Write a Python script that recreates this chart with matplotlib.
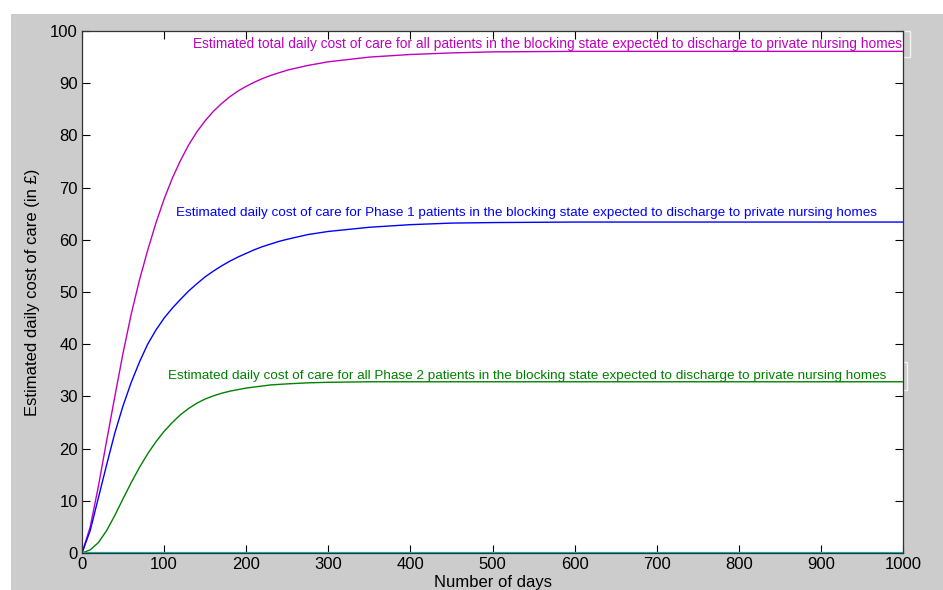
import matplotlib
matplotlib.use("Agg")
import matplotlib.pyplot as plt
from matplotlib import font_manager as fm
from matplotlib.patches import Rectangle

# ---------------- data ----------------
days = [0, 10, 20, 30, 40, 50, 60, 70, 80, 90, 100, 110, 120, 130, 140, 150,
        160, 170, 180, 190, 200, 210, 220, 230, 240, 250, 275, 300, 350, 400,
        450, 500, 600, 700, 800, 900, 1000]
total_cost = [0, 5.0, 12.8, 21.5, 30.0, 38.3, 45.8, 52.3, 58.0, 63.2, 67.8,
              71.8, 75.2, 78.2, 80.7, 82.8, 84.6, 86.1, 87.4, 88.5, 89.4, 90.2,
              90.9, 91.5, 92.0, 92.5, 93.4, 94.1, 95.0, 95.5, 95.8, 96.0, 96.1,
              96.1, 96.1, 96.1, 96.1]
phase1_cost = [0, 4.3, 10.6, 16.9, 23.0, 28.2, 32.7, 36.6, 40.0, 42.7, 45.0,
               46.9, 48.6, 50.2, 51.6, 52.9, 54.0, 55.0, 55.9, 56.7, 57.4, 58.1,
               58.7, 59.2, 59.7, 60.1, 61.0, 61.6, 62.4, 62.9, 63.2, 63.3, 63.4,
               63.4, 63.4, 63.4, 63.4]
phase2_cost = [0, 0.6, 2.0, 4.3, 7.2, 10.4, 13.5, 16.4, 19.0, 21.3, 23.3,
               25.0, 26.5, 27.7, 28.7, 29.5, 30.1, 30.6, 31.0, 31.3, 31.6, 31.8,
               32.0, 32.2, 32.3, 32.4, 32.6, 32.7, 32.8, 32.8, 32.8, 32.8, 32.8,
               32.8, 32.8, 32.8, 32.8]
other_cost = [0] * len(days)

label_total = ("Estimated total daily cost of care for all patients in the blocking "
               "state expected to discharge to private nursing homes")
label_p1 = ("Estimated daily cost of care for Phase 1 patients in the blocking "
            "state expected to discharge to private nursing homes")
label_p2 = ("Estimated daily cost of care for all Phase 2 patients in the blocking "
            "state expected to discharge to private nursing homes")

x_ticks = [0, 100, 200, 300, 400, 500, 600, 700, 800, 900, 1000]
y_ticks = [0, 10, 20, 30, 40, 50, 60, 70, 80, 90, 100]

# ---------------- styling ----------------
names = {f.name for f in fm.fontManager.ttflist}
narrow = "Liberation Sans Narrow" if "Liberation Sans Narrow" in names else "Liberation Sans"
plt.rcParams['font.family'] = ['Liberation Sans', 'DejaVu Sans']

C_MAG = '#bf00bf'
C_BLUE = '#0000ff'
C_GREEN = '#008000'
C_CYAN = '#00bfbf'

W, H = 943, 590
fig = plt.figure(figsize=(W / 100, H / 100), dpi=100, facecolor='white')
# grey MATLAB-like figure background
fig.patches.append(Rectangle((11 / W, 0), 1 - 11 / W, 1 - 14 / H,
                             transform=fig.transFigure, facecolor='#cccccc',
                             edgecolor='none', zorder=-10))
# faint text-box edges poking out on the right of two labels
for (x0, y0, x1, y1) in [(880, 31, 910, 57), (880, 362, 907, 390)]:
    fig.patches.append(Rectangle((x0 / W, 1 - y1 / H), (x1 - x0) / W, (y1 - y0) / H,
                                 transform=fig.transFigure, facecolor='none',
                                 edgecolor='#f4f4f4', lw=1.0, zorder=-5))

ax = fig.add_axes([82 / W, 1 - 553 / H, (903 - 82) / W, (553 - 31) / H])
ax.set_facecolor('white')

ax.plot(days, total_cost, color=C_MAG, lw=1.0)
ax.plot(days, phase1_cost, color=C_BLUE, lw=1.0)
ax.plot(days, phase2_cost, color=C_GREEN, lw=1.0)
ax.plot(days, other_cost, color=C_CYAN, lw=1.6)

ax.set_xlim(0, 1000)
ax.set_ylim(0, 100)
ax.set_xticks(x_ticks)
ax.set_yticks(y_ticks)
ax.tick_params(direction='in', length=6, width=0.8, top=True, right=True,
               labelsize=12, pad=3, colors='black')
for s in ax.spines.values():
    s.set_color('#333333')
    s.set_linewidth(0.9)

ax.set_xlabel("Number of days", fontsize=12)
ax.xaxis.set_label_coords(0.5, (553 - 582) / 522)
ax.xaxis.label.set_verticalalignment('center')
ax.set_ylabel("Estimated daily cost of care (in \u00a3)", fontsize=12)
ax.yaxis.set_label_coords((33 - 82) / 821, 0.5)
ax.yaxis.label.set_verticalalignment('center')
ax.yaxis.label.set_horizontalalignment('center')

# annotations, sized to match reference pixel widths
renderer = fig.canvas.get_renderer()
def put(xd, yd, txt, color, target_px):
    t = ax.text(xd, yd, txt, color=color, fontsize=10, family=narrow,
                ha='left', va='center')
    w = t.get_window_extent(renderer).width
    t.set_fontsize(10 * target_px / w)
    return t

put(135, 97.6, label_total, C_MAG, 707)
put(114.5, 65.2, label_p1, C_BLUE, 701)
put(105, 34.0, label_p2, C_GREEN, 719)

fig.savefig("out.png", dpi=100, facecolor=fig.get_facecolor())
